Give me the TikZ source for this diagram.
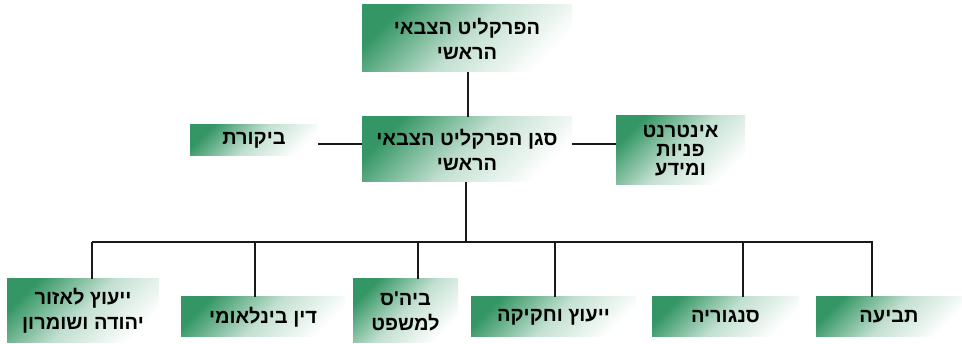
\documentclass[tikz,border=0pt]{standalone}
\usepackage{fontspec}
\newfontfamily\hebfont[Script=Hebrew]{Liberation Sans}
\TeXXeTstate=1
\usetikzlibrary{positioning}
\definecolor{unitgreen}{RGB}{52,150,100}
\newcommand{\heb}[1]{\beginR#1\endR}
\tikzset{%
	% Specifications for style of nodes:
	base/.style = {rectangle, inner sep=0pt, align=center,
		top color=unitgreen, bottom color=white, middle color=unitgreen!30,
		shading angle=45,
		font=\hebfont\bfseries\fontsize{20}{25}\selectfont},
	unit/.style = {base, minimum width=#1, minimum height=40pt},
	unitTall/.style = {base, minimum width=#1, minimum height=65pt},
	link/.style = {line width=1.6pt, black!90},
}

\begin{document}
\begin{tikzpicture}[x=1pt, y=1pt]
\useasboundingbox (0,0) rectangle (962,-344);
%% Specification of nodes (position, etc.)
\node (chief)    [unitTall=210pt, minimum height=67pt] at (467,-38.5) {\heb{הפרקליט הצבאי}\\\heb{הראשי}};
\node (deputy)   [unitTall=210pt] at (467,-149.5) {\heb{סגן הפרקליט הצבאי}\\\heb{הראשי}};
\node (audit)    [unit=128pt, minimum height=31pt] at (254,-140.5) {\heb{ביקורת}};
\node (internet) [unitTall=129pt, minimum height=69pt] at (680.5,-150.5) {\heb{אינטרנט}\\[-6pt]\heb{פניות}\\[-6pt]\heb{ומידע}};

\node (judea)    [unitTall=152pt, minimum height=64pt] at (83,-311) {\heb{ייעוץ לאזור}\\\heb{יהודה ושומרון}};
\node (intlaw)   [unit=164pt] at (263,-317) {\heb{דין בינלאומי}};
\node (school)   [unitTall=105pt, minimum height=64pt] at (405.5,-311) {\heb{ביה'ס}\\\heb{למשפט}};
\node (legis)    [unit=165pt] at (553.5,-317) {\heb{ייעוץ וחקיקה}};
\node (defense)  [unit=147pt] at (725.5,-317) {\heb{סנגוריה}};
\node (prosec)   [unit=146pt] at (889,-317) {\heb{תביעה}};

%% points on the common bar
\coordinate (hub)  at (466,-242);
\coordinate (barL) at (92,-242);
\coordinate (barR) at (873,-242);
\foreach \x/\n in {92/judea, 255/intlaw, 418/school, 555/legis, 743/defense, 872/prosec}
	\coordinate (drop-\n) at (\x,-242);

%% Specification of lines between nodes
\draw[link] (chief.south -| 468,0) -- (deputy.north -| 468,0);
\draw[link] (audit.east |- 0,-144) -- (deputy.west |- 0,-144);
\draw[link] (deputy.east |- 0,-144) -- (internet.west |- 0,-144);
\draw[link] (deputy.south -| hub) -- (hub);
\draw[link] (barL) -- (barR);
\foreach \n in {judea, intlaw, school, legis, defense, prosec}
	\draw[link] (drop-\n) -- (drop-\n |- \n.north);
\end{tikzpicture}
\end{document}
